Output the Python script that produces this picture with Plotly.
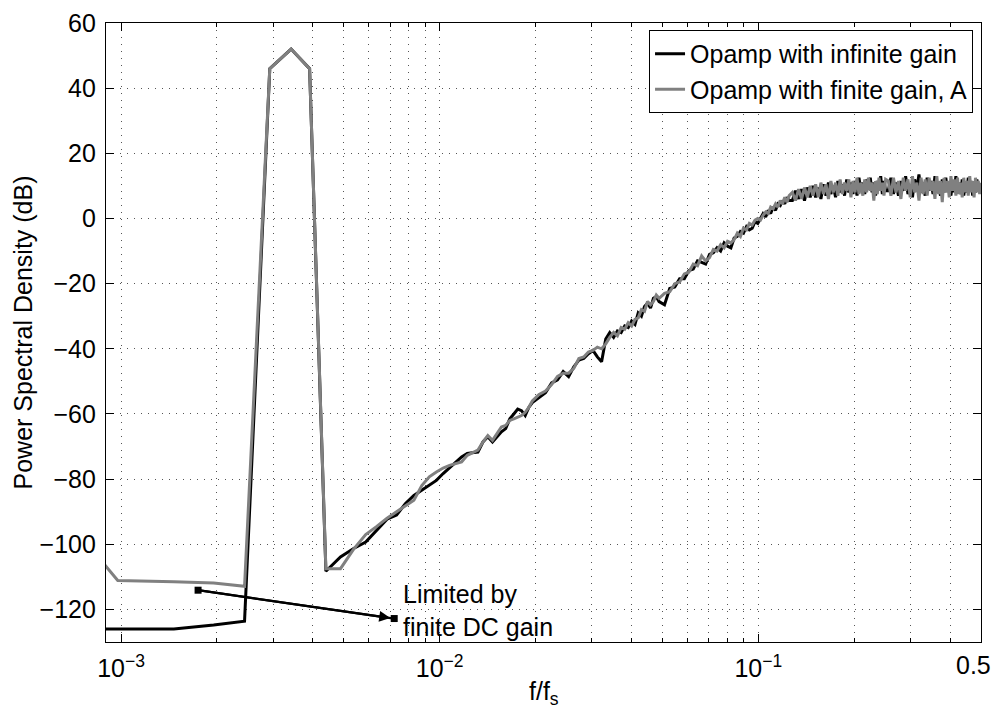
import math
import plotly.graph_objects as go

# FFT bin indices (f/fs = k / 2048)
bins = (list(range(1, 41)) + list(range(42, 101, 2)) + list(range(104, 257, 4))
        + list(range(262, 515, 6)) + list(range(524, 1025, 10)))
NFFT = 2048

psd_infinite = [
    -126, -126, -126, -124.8, -123.6, 46, 52, 46, -108.3, -103.9,
    -101.3, -99.3, -95.5, -92.3, -91, -87.5, -85, -83.3, -81.9, -80.4,
    -78.3, -76.5, -74.7, -73.2, -72.1, -72, -71.7, -68.6, -67, -68.6,
    -67, -65.5, -64.5, -61.5, -60, -58.5, -59, -60.5, -58, -56.5,
    -55, -53.5, -50.5, -49.5, -47, -48.5, -45.5, -43.5, -43, -41.5,
    -40.5, -42.5, -44, -37, -35, -36.5, -34.5, -35, -33, -33.5,
    -31.5, -32.5, -29, -30, -27, -26, -27.5, -24.5, -24, -25.5,
    -26.5, -21.5, -21, -18.5, -18.5, -16, -15.5, -13, -13.5, -14,
    -11, -10.5, -9, -10, -7.5, -8.5, -9, -6, -5.5, -4,
    -4.5, -2.5, -3.5, -3, -1, -1.5, 0, 1.5, 0.5, 2.5,
    1.5, 3.5, 2.5, 4.5, 4, 5.5, 4.5, 6.5, 5.5,
    5.5, 8.5, 6, 9, 5.5, 9.5, 6.5, 10, 6.5, 9.5, 6, 10.5, 7, 11, 7.5, 10, 6.5, 11.5, 8, 10.5,
    7, 12, 8, 11, 7.5, 11.5, 7, 12.5, 8.5, 11, 7.5, 12, 9, 12.5, 8, 11, 7, 11.5, 8.5, 13,
    7.5, 11.5, 8.5,
    8.5, 12.5, 7.5, 11, 7, 11.5, 8.5, 13, 7.5, 10.5, 6.5, 12, 9, 13.5, 8, 11, 7, 12.5, 8.5, 11.5,
    7.5, 13, 9, 11, 7, 12, 8, 12.5, 8.5, 10.5, 7, 11.5, 8, 13, 8.5, 11, 7.5, 12, 7, 10.5,
    8, 12.5, 8.5, 11.5, 7, 11, 8, 12, 8.5, 10.5, 8,
]

psd_finite = [
    -76, -111.1, -111.5, -111.9, -112.9, 46, 52, 46, -107.5, -107.5,
    -101.5, -97, -94.5, -92, -90, -88.2, -86.5, -82, -79.3, -77.8,
    -76.6, -75.8, -75.3, -74.7, -72.7, -72, -71.1, -68.6, -66.6, -68.1,
    -66.2, -64, -63.5, -62, -61.5, -61, -60.5, -59.5, -58, -56,
    -54, -53, -51, -48.5, -47.5, -47.5, -46, -43, -42.5, -41,
    -40.5, -39.5, -40, -38.5, -36.5, -35, -36, -33.5, -34, -32,
    -33, -31, -30.5, -28, -28.5, -25.5, -26.5, -25.5, -23.5, -24.5,
    -23, -22.5, -20, -19.5, -17, -16.5, -14, -14.5, -11.5, -13,
    -12, -9.5, -10, -8, -9, -7, -7.5, -6.5, -4.5, -5.5,
    -3, -3.5, -1.5, -2, -0.5, 0, -0.5, 1, 2, 1.5,
    3.5, 3, 4.5, 3.5, 5.5, 4.5, 6.5, 5, 7,
    8, 5.5, 9, 6, 9.5, 6.5, 10, 7, 10.5, 6.5, 11, 7.5, 10.5, 6, 11.5, 8, 11, 7, 12, 7.5,
    11, 8.5, 12, 6.5, 11.5, 8, 12.5, 7.5, 11, 7, 12, 8, 12.5, 8.5, 11, 5.5, 11.5, 7.5, 12.5, 8.5,
    11, 7, 12,
    11.5, 7, 12.5, 8, 11.5, 6, 12.5, 8.5, 12, 6.5, 13, 8, 11, 5.5, 12.5, 7.5, 12, 7, 12.5, 8.5,
    11.5, 6, 13, 7.5, 11.5, 5, 12.5, 8, 11.5, 6.5, 13, 8.5, 12, 7, 12.5, 7.5, 11, 6.5, 12.5, 8,
    11.5, 7, 13, 8, 11.5, 6.5, 12.5, 8, 11.5, 7.5, 11,
]

series_names = ["Opamp with infinite gain", "Opamp with finite gain, A"]
x_tickvals = [1e-3, 1e-2, 1e-1, 0.5]
x_ticktext = ["10<sup>\u22123</sup>", "10<sup>\u22122</sup>", "10<sup>\u22121</sup>", ""]
edge_label = "0.5"
x_minor = [m * 10 ** e for e in (-3, -2, -1) for m in range(2, 10) if m * 10 ** e < 0.5]
y_tickvals = list(range(-120, 61, 20))
x_range = [0.000897, 0.5]
y_range = [-130, 60]

annot_start = (0.001745, -114.1)
annot_end = (0.0072, -122.8)
annot_text_pos = (0.00757, -120.2)

freq = [k / NFFT for k in bins]
FONT = "Liberation Sans, Arial, Helvetica, sans-serif"
FS = 25

fig = go.Figure()
fig.add_trace(go.Scatter(x=freq, y=psd_infinite, mode="lines", name=series_names[0],
                         line=dict(color="black", width=3)))
fig.add_trace(go.Scatter(x=freq, y=psd_finite, mode="lines", name=series_names[1],
                         line=dict(color="#808080", width=3)))
fig.add_trace(go.Scatter(x=[annot_start[0], annot_end[0]], y=[annot_start[1], annot_end[1]],
                         mode="lines+markers", showlegend=False,
                         line=dict(color="black", width=2.2),
                         marker=dict(symbol="square", size=7, color="black")))

fig.add_annotation(x=math.log10(annot_end[0]), y=annot_end[1],
                   ax=math.log10(annot_start[0]), ay=annot_start[1],
                   xref="x", yref="y", axref="x", ayref="y", text="",
                   showarrow=True, arrowhead=2, arrowsize=1, arrowwidth=2.2,
                   arrowcolor="black", standoff=4)
fig.add_annotation(x=math.log10(annot_text_pos[0]), y=annot_text_pos[1], xref="x", yref="y",
                   text="Limited by<br>finite DC gain", showarrow=False, xanchor="left",
                   yanchor="middle", align="left", font=dict(size=FS, color="black", family=FONT))

# label of the right-edge tick, kept inside the page
fig.add_annotation(x=math.log10(x_tickvals[-1]), y=-0.037, xref="x", yref="paper",
                   text=edge_label, showarrow=False, xanchor="right", xshift=12,
                   yanchor="middle", font=dict(size=FS, color="black", family=FONT))

grid_dash = "1px,6px"
fig.update_xaxes(type="log", range=[math.log10(x_range[0]), math.log10(x_range[1])],
                 automargin=False,
                 tickmode="array", tickvals=x_tickvals, ticktext=x_ticktext,
                 ticks="inside", ticklen=8, tickwidth=1, tickcolor="black",
                 showline=True, linecolor="black", linewidth=1.3, mirror="ticks",
                 showgrid=True, gridcolor="#555555", gridwidth=1, griddash=grid_dash,
                 zeroline=False, ticklabelstandoff=4,
                 tickfont=dict(size=FS, color="black", family=FONT),
                 minor=dict(tickmode="array", tickvals=x_minor, ticks="inside", ticklen=4,
                            tickcolor="black", showgrid=True, gridcolor="#555555",
                            gridwidth=1, griddash=grid_dash))
fig.update_yaxes(range=y_range, tickmode="array", tickvals=y_tickvals, automargin=False,
                 ticks="inside", ticklen=8, tickwidth=1, tickcolor="black",
                 showline=True, linecolor="black", linewidth=1.3, mirror="ticks",
                 showgrid=True, gridcolor="#555555", gridwidth=1, griddash=grid_dash,
                 zeroline=False, ticklabelstandoff=4,
                 tickfont=dict(size=FS, color="black", family=FONT))

fig.add_annotation(x=0.5, y=-0.053, xref="paper", yref="paper", text="f/f<sub>s</sub>",
                   showarrow=False, xanchor="center", yanchor="top",
                   font=dict(size=FS, color="black", family=FONT))
fig.add_annotation(x=-0.096, y=0.5, xref="paper", yref="paper",
                   text="Power Spectral Density (dB)", textangle=-90, showarrow=False,
                   xanchor="center", yanchor="middle",
                   font=dict(size=FS, color="black", family=FONT))

fig.update_layout(
    width=995, height=708,
    margin=dict(l=106, r=14, t=23, b=66, autoexpand=False),
    paper_bgcolor="white", plot_bgcolor="white",
    font=dict(family=FONT, size=FS, color="black"),
    showlegend=True,
    legend=dict(x=0.9909, y=0.9887, xanchor="right", yanchor="top",
                bgcolor="white", bordercolor="black", borderwidth=1,
                font=dict(size=FS, color="black", family=FONT),
                tracegroupgap=0, itemwidth=30),
)

fig.write_html("out.html")
